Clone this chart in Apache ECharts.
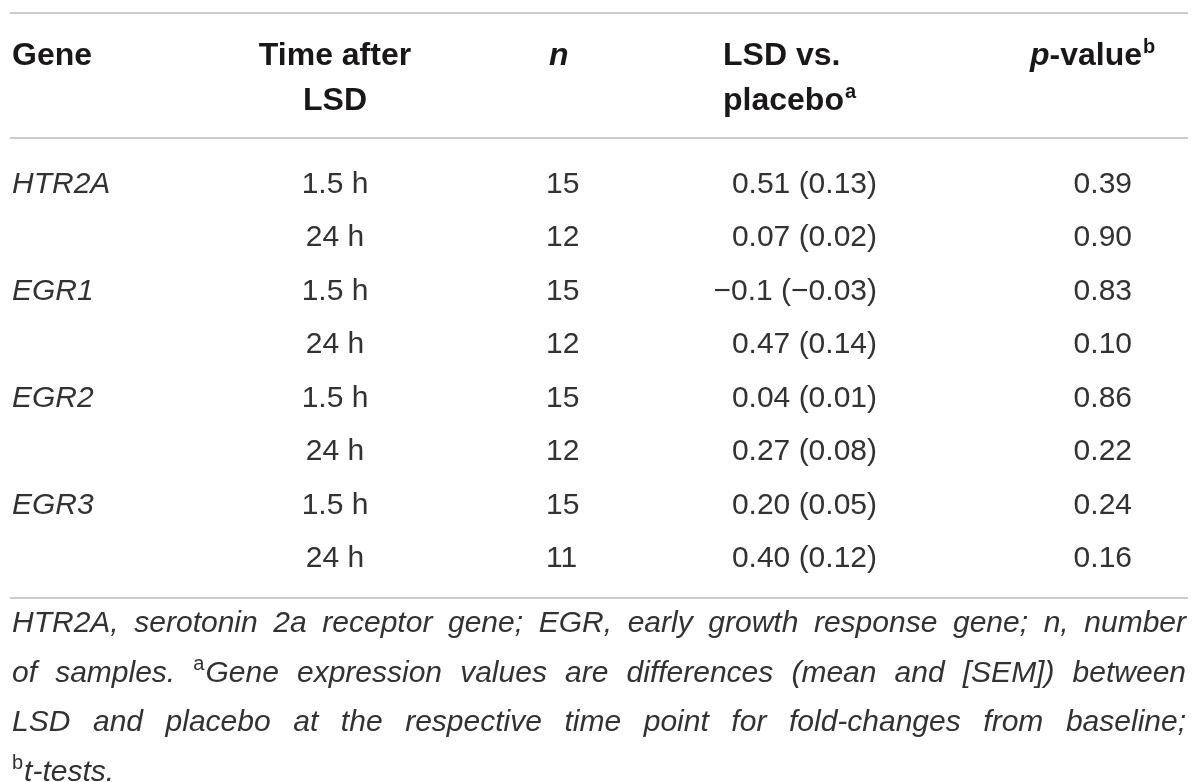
<!DOCTYPE html>
<html>
<head>
<meta charset="utf-8">
<script src="https://cdn.jsdelivr.net/npm/echarts@6/dist/echarts.min.js"></script>
<style>
html,body{margin:0;padding:0;background:#fff;}
#chart{width:1200px;height:782px;}
</style>
</head>
<body>
<div id="chart"></div>
<script>
// ---- table data ----
const genes = ['HTR2A', '', 'EGR1', '', 'EGR2', '', 'EGR3', ''];
const times = ['1.5 h', '24 h', '1.5 h', '24 h', '1.5 h', '24 h', '1.5 h', '24 h'];
const nValues = ['15', '12', '15', '12', '15', '12', '15', '11'];
const diffMeans = ['0.51', '0.07', '\u22120.1', '0.47', '0.04', '0.27', '0.20', '0.40'];
const diffSems = ['0.13', '0.02', '\u22120.03', '0.14', '0.01', '0.08', '0.05', '0.12'];
const pValues = ['0.39', '0.90', '0.83', '0.10', '0.86', '0.22', '0.24', '0.16'];
const footnoteLines = [
  [['HTR2A,'], ['serotonin'], ['2a'], ['receptor'], ['gene;'], ['EGR,'], ['early'], ['growth'], ['response'], ['gene;'], ['n,'], ['number']],
  [['of'], ['samples.'], ['^a', 'Gene'], ['expression'], ['values'], ['are'], ['differences'], ['(mean'], ['and'], ['[SEM])'], ['between']],
  [['LSD'], ['and'], ['placebo'], ['at'], ['the'], ['respective'], ['time'], ['point'], ['for'], ['fold-changes'], ['from'], ['baseline;']],
  [['^b', 't-tests.']]
];

const INK = '#343132';
const HEAD_INK = '#1a1718';
const FAM = '"Liberation Sans", Arial, Helvetica, sans-serif';
const DATA_FS = 30;
const HEAD_FS = 32;
const FOOT_FS = 30;
const SUP_FS = 20;

const chart = echarts.init(document.getElementById('chart'), null, {renderer: 'canvas'});

// column anchors
const colGene = 12, colTime = 335, colN = 546, colDiff = 877, colP = 1132;
const lineLeft = 10, lineRight = 1188;

// measurement for justified footnote
const mctx = document.createElement('canvas').getContext('2d');
function measure(txt, fs, italic) {
  mctx.font = (italic ? 'italic ' : '') + fs + 'px ' + FAM;
  return mctx.measureText(txt).width;
}

const graphics = [];
function hline(y) {
  graphics.push({type: 'line', shape: {x1: lineLeft, y1: y, x2: lineRight, y2: y},
    style: {stroke: '#cccccc', lineWidth: 2}, silent: true});
}
hline(13); hline(138); hline(598);

function headText(txt, x, y, align, rich) {
  graphics.push({type: 'text', x: x, y: y, style: {
    text: txt, fill: HEAD_INK,
    fontSize: HEAD_FS, fontWeight: 'bold', fontFamily: FAM,
    align: align, verticalAlign: 'middle', rich: rich || {}
  }});
}
const headRich = {
  it: {fontStyle: 'italic', fontWeight: 'bold', fontSize: HEAD_FS, fontFamily: FAM, fill: HEAD_INK, lineHeight: 38},
  b: {fontWeight: 'bold', fontSize: HEAD_FS, fontFamily: FAM, fill: HEAD_INK, lineHeight: 38},
  sup: {fontWeight: 'bold', fontSize: SUP_FS, fontFamily: FAM, fill: HEAD_INK, verticalAlign: 'top', lineHeight: 38, padding: [0, 0, 14, 1]}
};
headText('Gene', colGene, 56, 'left');
headText('Time after', colTime, 56, 'center');
headText('LSD', colTime, 101, 'center');
headText('{it|n}', 549, 56, 'left', headRich);
headText('LSD vs.', 723, 56, 'left');
headText('{b|placebo}{sup|a}', 723, 101, 'left', headRich);
headText('{it|p}{b|-value}{sup|b}', 1030, 56, 'left', headRich);

// footnote, justified
const footTop = 624, footStep = 49.5, footL = 12, footR = 1186;
footnoteLines.forEach(function (words, li) {
  const y = footTop + li * footStep;
  const widths = words.map(function (w) {
    return w.reduce(function (s, tok) {
      return s + (tok.indexOf('^') === 0 ? measure(tok.slice(1), SUP_FS, false) + 1 : measure(tok, FOOT_FS, true));
    }, 0);
  });
  const total = widths.reduce(function (a, b) { return a + b; }, 0);
  const justify = li < footnoteLines.length - 1;
  const gap = justify ? (footR - footL - total) / (words.length - 1) : measure(' ', FOOT_FS, true);
  let x = footL;
  words.forEach(function (w, wi) {
    let xx = x;
    w.forEach(function (tok) {
      const isSup = tok.indexOf('^') === 0;
      const t = isSup ? tok.slice(1) : tok;
      graphics.push({type: 'text', x: xx, y: isSup ? y - 9 : y, style: {
        text: t, fill: INK, fontSize: isSup ? SUP_FS : FOOT_FS, fontStyle: isSup ? 'normal' : 'italic',
        fontWeight: 'normal', fontFamily: FAM, align: 'left', verticalAlign: 'middle'
      }});
      xx += isSup ? measure(t, SUP_FS, false) + 1 : measure(t, FOOT_FS, true);
    });
    x += widths[wi] + gap;
  });
});

const rowIdx = genes.map(function (_, i) { return String(i); });

function cellText(txt, x, y, align, italic) {
  return {type: 'text', x: x, y: y, style: {
    text: txt, fill: INK, fontSize: DATA_FS, fontWeight: 'normal', fontFamily: FAM,
    fontStyle: italic ? 'italic' : 'normal', align: align, verticalAlign: 'middle'
  }};
}

const option = {
  backgroundColor: '#ffffff',
  animation: false,
  grid: {left: 0, right: 0, top: 158, height: 427.5},
  xAxis: {type: 'value', min: 0, max: 1200, show: false},
  yAxis: {type: 'category', data: rowIdx, inverse: true, show: false},
  graphic: graphics,
  series: [{
    type: 'custom',
    data: genes.map(function (_, i) { return [0, i]; }),
    encode: {x: 0, y: 1},
    renderItem: function (params, api) {
      const i = params.dataIndex;
      const y = api.coord([0, i])[1];
      return {type: 'group', children: [
        cellText(genes[i], colGene, y, 'left', true),
        cellText(times[i], colTime, y, 'center', false),
        cellText(nValues[i], colN, y, 'left', false),
        cellText(diffMeans[i] + ' (' + diffSems[i] + ')', colDiff, y, 'right', false),
        cellText(pValues[i], colP, y, 'right', false)
      ]};
    }
  }]
};
chart.setOption(option);
</script>
</body>
</html>
